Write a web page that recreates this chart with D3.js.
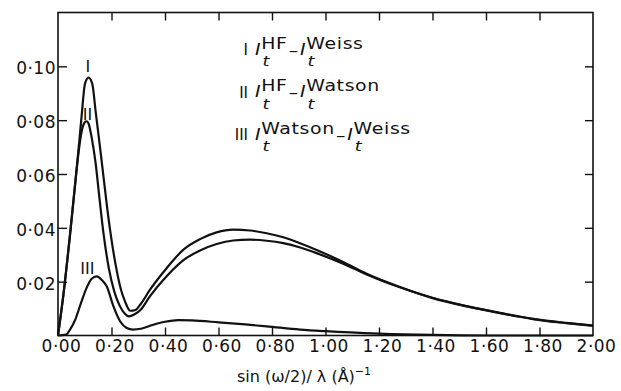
<!DOCTYPE html>
<html>
<head>
<meta charset="utf-8">
<script src="https://cdn.jsdelivr.net/npm/d3@7"></script>
<style>
  body { margin: 0; background: #fff; }
  svg { display: block; font-family: "DejaVu Sans", "Liberation Sans", Arial, sans-serif; }
</style>
</head>
<body>
<div id="chart"></div>
<script>
// x = sin(w/2)/lambda
const sI = [0, 0.02, 0.045, 0.065, 0.08, 0.088, 0.101, 0.114, 0.128, 0.141, 0.157, 0.17, 0.185, 0.2, 0.215, 0.235, 0.25, 0.27, 0.29, 0.31, 0.344, 0.406, 0.469, 0.531, 0.593, 0.655, 0.718, 0.78, 0.842, 0.905, 0.967, 1.066, 1.154, 1.278, 1.4, 1.528, 1.652, 1.776, 1.9, 2.0];
const vI = [0, 0.015, 0.0375, 0.057, 0.0726, 0.0812, 0.0936, 0.0958, 0.0936, 0.083, 0.070, 0.059, 0.0465, 0.0356, 0.0265, 0.0172, 0.0128, 0.0092, 0.0095, 0.0118, 0.017, 0.025, 0.0319, 0.0358, 0.0383, 0.0393, 0.039, 0.038, 0.0365, 0.0343, 0.0318, 0.0273, 0.0229, 0.018, 0.014, 0.0109, 0.0084, 0.0062, 0.0047, 0.0037];

const sII = [0, 0.02, 0.045, 0.07, 0.08, 0.09, 0.1, 0.107, 0.115, 0.126, 0.14, 0.155, 0.17, 0.19, 0.21, 0.23, 0.25, 0.265, 0.285, 0.31, 0.344, 0.406, 0.469, 0.531, 0.593, 0.655, 0.718, 0.78, 0.842, 0.905, 0.967, 1.066, 1.154, 1.278, 1.4, 1.528, 1.652, 1.776, 1.9, 2.0];
const vII = [0, 0.015, 0.0375, 0.062, 0.0705, 0.0765, 0.0792, 0.0796, 0.0785, 0.0735, 0.0645, 0.051, 0.038, 0.025, 0.0165, 0.0112, 0.0081, 0.0071, 0.0078, 0.0097, 0.0146, 0.022, 0.028, 0.0316, 0.034, 0.0353, 0.0356, 0.0352, 0.0343, 0.0327, 0.0306, 0.0267, 0.0227, 0.0179, 0.0139, 0.0108, 0.0083, 0.0061, 0.0046, 0.0036];

const sIII = [0, 0.03, 0.045, 0.065, 0.082, 0.107, 0.125, 0.145, 0.165, 0.182, 0.207, 0.232, 0.257, 0.28, 0.31, 0.35, 0.4, 0.45, 0.5, 0.6, 0.7, 0.78, 0.905, 1.0, 1.2, 1.4, 1.6, 2.0];
const vIII = [0, 0.0003, 0.0022, 0.006, 0.0109, 0.0177, 0.021, 0.022, 0.0205, 0.0183, 0.0109, 0.0053, 0.0028, 0.0022, 0.0025, 0.0038, 0.0051, 0.0057, 0.0056, 0.0049, 0.0041, 0.0034, 0.0022, 0.0016, 0.0007, 0.0002, 0, 0];

const xTickValues = [0, 0.2, 0.4, 0.6, 0.8, 1.0, 1.2, 1.4, 1.6, 1.8, 2.0];
const xTickLabels = ['0·00', '0·20', '0·40', '0·60', '0·80', '1·00', '1·20', '1·40', '1·60', '1·80', '2·00'];
const yTickValues = [0.02, 0.04, 0.06, 0.08, 0.10];
const yTickLabels = ['0·02', '0·04', '0·06', '0·08', '0·10'];

const curveNames = ['I', 'II', 'III'];
const legendSup = [['HF', 'Weiss'], ['HF', 'Watson'], ['Watson', 'Weiss']];

const width = 621, height = 391;
const margin = {top: 12.5, right: 28, bottom: 55.5, left: 58};
const w = width - margin.left - margin.right;
const h = height - margin.top - margin.bottom;

const svg = d3.select('#chart').append('svg')
    .attr('width', width).attr('height', height);

const g = svg.append('g')
    .attr('transform', 'translate(' + margin.left + ',' + margin.top + ')');

const x = d3.scaleLinear().domain([0, 2]).range([0, w]);
const y = d3.scaleLinear().domain([0, 0.12]).range([h, 0]);

// axes: ticks point inwards on all four sides
const axisB = g.append('g').attr('transform', 'translate(0,' + h + ')')
    .call(d3.axisBottom(x).tickValues(xTickValues)
        .tickFormat((d, i) => xTickLabels[i]).tickSize(-8).tickPadding(4));
axisB.selectAll('.tick line').filter(d => d === 0 || d === 2).remove();
axisB.selectAll('text').attr('dx', 3);

const axisL = g.append('g')
    .call(d3.axisLeft(y).tickValues(yTickValues)
        .tickFormat((d, i) => yTickLabels[i]).tickSize(-9).tickPadding(2));
axisL.selectAll('text').attr('dy', '0.45em');

g.append('g')
    .call(d3.axisTop(x).tickValues(xTickValues.slice(1, -1)).tickFormat('').tickSize(-8));
g.append('g').attr('transform', 'translate(' + w + ',0)')
    .call(d3.axisRight(y).tickValues(yTickValues).tickFormat('').tickSize(-8));

g.selectAll('.domain').remove();
g.selectAll('.tick line').attr('stroke', '#111').attr('stroke-width', 1.4);
g.selectAll('.tick text')
    .attr('fill', '#111')
    .style('font-size', '17px')
    .style('letter-spacing', '0.5px')
    .style('font-family', '"DejaVu Sans", sans-serif');

// frame
g.append('rect')
    .attr('width', w).attr('height', h)
    .attr('fill', 'none')
    .attr('stroke', '#111')
    .attr('stroke-width', 1.6);

// curves
const line = d3.line()
    .x(d => x(d[0]))
    .y(d => y(d[1]))
    .curve(d3.curveMonotoneX);

[[sI, vI], [sII, vII], [sIII, vIII]].forEach(pair => {
    g.append('path')
        .datum(pair[0].map((s, i) => [s, pair[1][i]]))
        .attr('fill', 'none')
        .attr('stroke', '#111')
        .attr('stroke-width', 2.2)
        .attr('stroke-linejoin', 'round')
        .attr('d', line);
});

// curve labels
const labelAt = [[0.112, 0.098], [0.110, 0.0802], [0.110, 0.023]];
labelAt.forEach((p, i) => {
    g.append('text')
        .attr('x', x(p[0])).attr('y', y(p[1]))
        .attr('text-anchor', 'middle')
        .attr('fill', '#111')
        .style('font-size', '16px')
        .text(curveNames[i]);
});

// legend: numerals plain, formulas in a horizontally stretched group (wide typeface)
const legNum = svg.append('g').attr('fill', '#111').style('font-size', '15px');
const legend = svg.append('g').attr('fill', '#111').style('font-size', '15px')
    .attr('transform', 'translate(255,0) scale(1.26,1)');

function term(x0, base, sup) {
    const I = legend.append('text').attr('x', x0).attr('y', base)
        .style('font-style', 'italic').text('I');
    const sx = x0 + I.node().getComputedTextLength() + 0.5;
    legend.append('text').attr('x', sx + 1).attr('y', base + 11.5)
        .style('font-style', 'italic').style('font-size', '14px').text('t');
    const s = legend.append('text').attr('x', sx).attr('y', base - 6)
        .style('letter-spacing', '0.5px').text(sup);
    return sx + s.node().getComputedTextLength();
}

legendSup.forEach((sups, i) => {
    const base = 55 + i * 42.5;
    legNum.append('text').attr('x', 248).attr('y', base)
        .attr('text-anchor', 'end').text(curveNames[i]);
    let cx = term(0, base, sups[0]);
    const dash = legend.append('text').attr('x', cx + 1).attr('y', base + 1).text('–');
    cx += 1 + dash.node().getComputedTextLength() + 1.5;
    term(cx, base, sups[1]);
});

// x axis title
svg.append('text')
    .attr('x', 304).attr('y', 382)
    .attr('text-anchor', 'middle')
    .attr('fill', '#111')
    .style('font-size', '16px')
    .text('sin (ω/2)/ λ (Å)')
    .append('tspan')
    .attr('dy', -7)
    .style('font-size', '11px')
    .text('−1');
</script>
</body>
</html>
